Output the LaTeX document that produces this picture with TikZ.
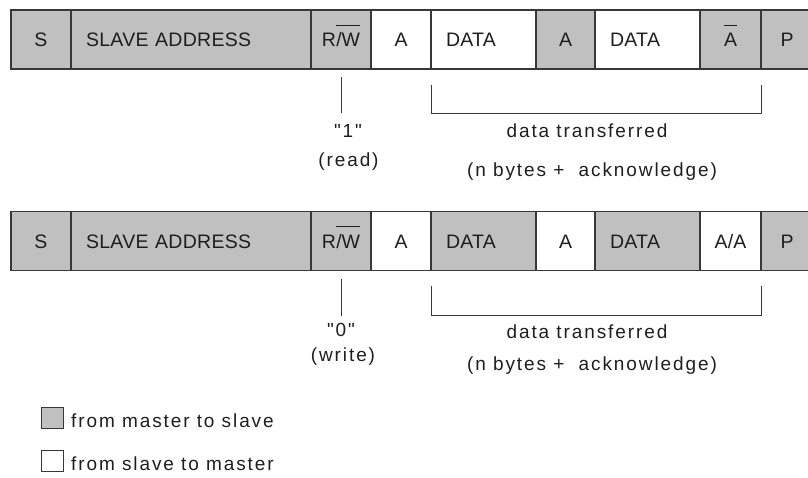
\documentclass[tikz,border=0pt]{standalone}
\usepackage{fontspec}
\setmainfont{Liberation Sans}
\newfontfamily\cellfamily[LetterSpace=1.5]{Liberation Sans}
\newfontfamily\notefamily[LetterSpace=10]{Liberation Sans}
\newcommand\cellfont{\cellfamily\fontsize{19.5}{23}\selectfont}
\newcommand\notefont{\notefamily\fontsize{19}{23}\selectfont}
% complement bar over a signal name; the optional length widens the bar to the left
\newcommand\barred[2][0pt]{\kern-#1\vbox{\hrule height 0.9pt\kern 7.5pt\hbox{\kern#1#2}}}

\definecolor{cellgray}{HTML}{C0C0C0}
\definecolor{edge}{HTML}{383838}
\definecolor{ink}{HTML}{1E1E1E}

\tikzset{
  cell/.style={draw=edge, line width=1.3pt, minimum height=59pt, inner ysep=0pt,
    inner xsep=0pt, outer sep=0pt, text height=14pt, text depth=0pt,
    font=\cellfont, text=ink, minimum width=#1},
  m2s/.style={cell=#1, fill=cellgray},
  s2m/.style={cell=#1, fill=white},
  lalign/.style={inner xsep=15pt, text width=#1, align=left},
  next/.style={anchor=west, at=(#1.east)},
  guide/.style={draw=edge, line width=1pt},
  note/.style={inner sep=0pt, anchor=base, font=\notefont, text=ink},
  key/.style={draw=edge, line width=1pt, minimum width=22pt, minimum height=21pt, inner sep=0pt},
}

\begin{document}
\begin{tikzpicture}[x=1pt, y=-1pt]
\useasboundingbox (0,0) rectangle (808,477);

% read transfer
\node[m2s=60pt, anchor=west] (s1) at (11,39.5) {S};
\node[m2s=240pt, lalign=210pt, next=s1] (sa1) {SLAVE ADDRESS};
\node[m2s=60pt, next=sa1] (rw1) {R/\barred[6pt]{W}};
\node[s2m=60pt, next=rw1] (a1) {A};
\node[s2m=105pt, lalign=75pt, next=a1] (d1) {DATA};
\node[m2s=59pt, next=d1] (ak1) {A};
\node[s2m=105pt, lalign=75pt, next=ak1] (e1) {DATA};
\node[m2s=61pt, next=e1] (na1) {\barred{A}};
\node[m2s=52pt, next=na1] (p1) {P};

\coordinate (t1a) at ([yshift=-8pt]rw1.south);
\coordinate (t1b) at ([yshift=-44pt]rw1.south);
\draw[guide] (t1a) -- (t1b);
\coordinate (b1l) at ([yshift=-16pt]d1.south west);
\coordinate (b1r) at ([yshift=-16pt]na1.south east);
\draw[guide] (b1l) -- ([yshift=-44pt]d1.south west) -- ([yshift=-44pt]na1.south east) -- (b1r);

\node[note] (v1) at (348,137) {"1"};
\node[note] (m1) at (348.5,166.5) {(read)};
\node[note] (dt1) at (587,137.5) {data transferred};
\node[note] (nb1) at (592,176.5) {(n bytes +\ \ acknowledge)};

% write transfer
\node[m2s=60pt, anchor=west] (s2) at (11,241) {S};
\node[m2s=240pt, lalign=210pt, next=s2] (sa2) {SLAVE ADDRESS};
\node[m2s=60pt, next=sa2] (rw2) {R/\barred[6pt]{W}};
\node[s2m=60pt, next=rw2] (a2) {A};
\node[m2s=105pt, lalign=75pt, next=a2] (d2) {DATA};
\node[s2m=59pt, next=d2] (ak2) {A};
\node[m2s=105pt, lalign=75pt, next=ak2] (e2) {DATA};
\node[s2m=61pt, next=e2] (na2) {A/A};
\node[m2s=52pt, next=na2] (p2) {P};

\coordinate (t2a) at ([yshift=-8pt]rw2.south);
\coordinate (t2b) at ([yshift=-45pt]rw2.south);
\draw[guide] (t2a) -- (t2b);
\coordinate (b2l) at ([yshift=-15pt]d2.south west);
\coordinate (b2r) at ([yshift=-15pt]na2.south east);
\draw[guide] (b2l) -- ([yshift=-45pt]d2.south west) -- ([yshift=-45pt]na2.south east) -- (b2r);

\node[note] (v2) at (341,336.7) {"0"};
\node[note] (m2) at (343,361.7) {(write)};
\node[note] (dt2) at (587,338.3) {data transferred};
\node[note] (nb2) at (592,370) {(n bytes +\ \ acknowledge)};

% key
\node[key, fill=cellgray] (k1) at (52,417.5) {};
\node[note, anchor=base west] (k1t) at (71,427.3) {from master to slave};
\node[key, fill=white] (k2) at (52,461) {};
\node[note, anchor=base west] (k2t) at (71,470.7) {from slave to master};
\end{tikzpicture}
\end{document}
